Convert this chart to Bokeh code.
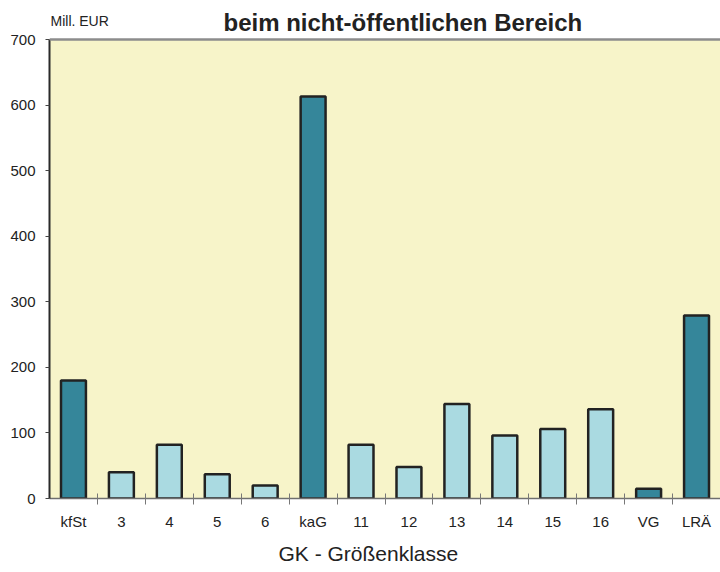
from bokeh.plotting import figure
from bokeh.models import (Range1d, FixedTicker, Title, ColumnDataSource, Label,
                          BoxAnnotation, Span)
from bokeh.embed import file_html
from bokeh.resources import INLINE

categories = ["kfSt", "3", "4", "5", "6", "kaG", "11", "12", "13", "14", "15", "16", "VG", "LRÄ"]
values = [180, 40, 82, 37, 20, 613, 82, 48, 144, 96, 106, 136, 15, 279]
summary_groups = ["kfSt", "kaG", "VG", "LRÄ"]
y_ticks = [0, 100, 200, 300, 400, 500, 600, 700]
y_max = 700

DARK = "#35869A"
LIGHT = "#AADAE1"
BG = "#F7F4C9"
FONT = "Liberation Sans"

# frame geometry (pixels): plot area 459 px tall for 0..700, headroom above for titles
PLOT_PX = 459
FRAME_PX = 498
y_top = y_max * FRAME_PX / PLOT_PX

centers = [i + 0.5 for i in range(len(categories))]
colors = [DARK if c in summary_groups else LIGHT for c in categories]
src = ColumnDataSource(dict(x=centers, top=values, color=colors, cat=categories))

p = figure(width=720, height=572, output_backend="svg", toolbar_location=None,
           x_range=Range1d(0, len(categories)), y_range=Range1d(0, y_top),
           min_border_left=49, min_border_right=0, min_border_top=0, min_border_bottom=74)
p.background_fill_color = "white"
p.border_fill_color = "white"
p.outline_line_color = None

p.add_layout(BoxAnnotation(bottom=0, top=y_max, fill_color=BG, fill_alpha=1.0,
                           line_color=None, level="underlay"))

p.xgrid.grid_line_color = None
p.ygrid.ticker = FixedTicker(ticks=y_ticks[1:-1])
p.ygrid.grid_line_color = "#A29E86"
p.ygrid.grid_line_width = 1.5

p.add_layout(Span(location=y_max, dimension="width", line_color="#8c8c8c", line_width=2.5))

p.vbar(x="x", top="top", width=0.52, bottom=0, source=src, fill_color="color",
       line_color="#222222", line_width=2.5)

# x axis
xa = p.xaxis[0]
xa.ticker = FixedTicker(ticks=centers, minor_ticks=list(range(1, len(categories))))
xa.major_label_overrides = {c: lab for c, lab in zip(centers, categories)}
xa.major_tick_line_color = None
xa.major_tick_out = 6
xa.major_tick_in = 0
xa.minor_tick_line_color = "#777777"
xa.minor_tick_in = 5
xa.minor_tick_out = 6
xa.axis_line_color = "#6f6f6f"
xa.axis_line_width = 1.5
xa.major_label_standoff = 8
xa.major_label_text_font = FONT
xa.major_label_text_font_size = "15px"
xa.major_label_text_color = "#222222"

# y axis
ya = p.yaxis[0]
ya.bounds = (0, y_max)
ya.ticker = FixedTicker(ticks=y_ticks)
ya.axis_line_color = "#2a2a2a"
ya.axis_line_width = 2
ya.major_tick_line_color = "#444444"
ya.major_tick_out = 4
ya.major_tick_in = 0
ya.minor_tick_line_color = None
ya.major_label_standoff = 10
ya.major_label_text_font = FONT
ya.major_label_text_font_size = "15px"
ya.major_label_text_color = "#222222"

p.add_layout(Label(x=174, y=476, x_units="screen", y_units="screen",
                   text="beim nicht-öffentlichen Bereich", text_align="left",
                   text_baseline="alphabetic", text_font=FONT, text_font_style="bold",
                   text_font_size="24px", text_color="#222222"))
p.add_layout(Label(x=1, y=478, x_units="screen", y_units="screen",
                   text="Mill. EUR", text_align="left", text_baseline="alphabetic",
                   text_font=FONT, text_font_size="14px", text_color="#222222"))

p.add_layout(Title(text="GK - Größenklasse", align="left", offset=229, standoff=15,
                   text_font=FONT, text_font_style="normal", text_font_size="21px",
                   text_color="#222222"), "below")

open("out.html", "w").write(file_html(p, INLINE))
